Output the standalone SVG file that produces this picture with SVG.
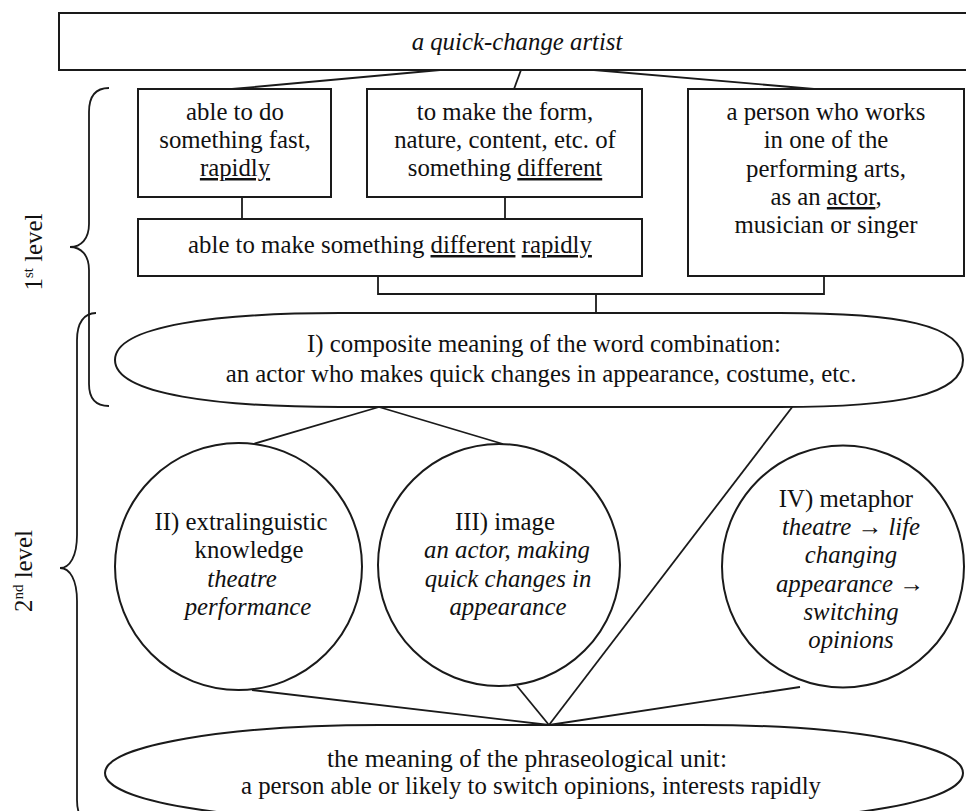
<svg xmlns="http://www.w3.org/2000/svg" width="966" height="811" viewBox="0 0 966 811">
  <style>
    .t{font-family:"Liberation Serif","Times New Roman",serif;font-size:24.8px;fill:#111;text-anchor:middle}
    .i{font-style:italic}
    .u{text-decoration:underline}
    .sh{fill:#fff;stroke:#1a1a1a;stroke-width:2}
    .ln{fill:none;stroke:#1a1a1a;stroke-width:1.8}
  </style>
  <rect width="966" height="811" fill="#fff"/>

  <!-- level braces -->
  <g id="brace-level-1">
    <path class="ln" d="M109,88 C96,88 89,96 89,112 L89,224 C89,239 81,247 70,247 C81,247 89,255 89,270 L89,384 C89,399 96,406 109,406"/>
    <text class="t" transform="translate(42,252) rotate(-90)">1<tspan font-size="15" dy="-9">st</tspan><tspan dy="9"> level</tspan></text>
  </g>
  <g id="brace-level-2">
    <path class="ln" d="M96,313 C84,313 77,323 77,340 L77,535 C77,556 70,568 60,568 C70,568 77,580 77,601 L77,800 C77,816 84,826 96,826"/>
    <text class="t" transform="translate(32,571) rotate(-90)">2<tspan font-size="15" dy="-9">nd</tspan><tspan dy="9"> level</tspan></text>
  </g>

  <!-- connectors -->
  <g id="connectors" class="ln">
    <path d="M440,70 L232,89"/>
    <path d="M521,70 L514,89"/>
    <path d="M594,70 L814,89"/>
    <path d="M242,197 V219"/>
    <path d="M505,197 V219"/>
    <path d="M378,276 V294 H824 V276"/>
    <path d="M596,294 V313"/>
    <path d="M379,407 L253,444"/>
    <path d="M379,407 L503,444"/>
    <path d="M793,406 L549,725"/>
    <path d="M252,690 L549,725"/>
    <path d="M517,686 L549,725"/>
    <path d="M800,687 L549,725"/>
  </g>

  <!-- term -->
  <g id="term">
    <rect class="sh" x="59" y="13" width="912" height="57"/>
    <text class="t i" x="517" y="50">a quick-change artist</text>
  </g>

  <!-- first level: dictionary meanings -->
  <g id="fast">
    <rect class="sh" x="138" y="89" width="193" height="108"/>
    <text class="t" x="235" y="120">able to do</text>
    <text class="t" x="235" y="148">something fast,</text>
    <text class="t" x="235" y="176"><tspan class="u">rapidly</tspan></text>
  </g>
  <g id="change">
    <rect class="sh" x="367" y="89" width="275" height="108"/>
    <text class="t" x="505" y="120">to make the form,</text>
    <text class="t" x="505" y="148">nature, content, etc. of</text>
    <text class="t" x="505" y="176">something <tspan class="u">different</tspan></text>
  </g>
  <g id="combined">
    <rect class="sh" x="138" y="219" width="504" height="57"/>
    <text class="t" x="390" y="253">able to make something <tspan class="u">different</tspan> <tspan class="u">rapidly</tspan></text>
  </g>
  <g id="artist">
    <rect class="sh" x="688" y="89" width="276" height="187"/>
    <text class="t" x="826" y="120">a person who works</text>
    <text class="t" x="826" y="148">in one of the</text>
    <text class="t" x="826" y="177">performing arts,</text>
    <text class="t" x="826" y="205">as an <tspan class="u">actor</tspan>,</text>
    <text class="t" x="826" y="233">musician or singer</text>
  </g>

  <!-- I) composite meaning -->
  <g id="composite">
    <path class="sh" d="M115,360 C115,325 220,313 340,313 L780,313 C900,313 963,325 963,360 C963,395 900,407 780,407 L340,407 C220,407 115,395 115,360 Z"/>
    <text class="t" x="544" y="352">I) composite meaning of the word combination:</text>
    <text class="t" x="541" y="382">an actor who makes quick changes in appearance, costume, etc.</text>
  </g>

  <!-- second level components -->
  <g id="knowledge">
    <circle class="sh" cx="238.5" cy="566.5" r="123.5"/>
    <text class="t" x="241" y="530">II) extralinguistic</text>
    <text class="t" x="249" y="558">knowledge</text>
    <text class="t i" x="242" y="587">theatre</text>
    <text class="t i" x="248" y="615">performance</text>
  </g>
  <g id="image">
    <circle class="sh" cx="499" cy="565" r="121"/>
    <text class="t" x="505" y="530">III) image</text>
    <text class="t i" x="507" y="558">an actor, making</text>
    <text class="t i" x="508" y="587">quick changes in</text>
    <text class="t i" x="508" y="615">appearance</text>
  </g>
  <g id="metaphor">
    <circle class="sh" cx="843" cy="566.5" r="121"/>
    <text class="t" x="846" y="507">IV) metaphor</text>
    <text class="t i" x="851" y="535">theatre → life</text>
    <text class="t i" x="851" y="563">changing</text>
    <text class="t i" x="850" y="592">appearance →</text>
    <text class="t i" x="851" y="620">switching</text>
    <text class="t i" x="851" y="648">opinions</text>
  </g>

  <!-- resulting meaning -->
  <g id="phraseological-meaning">
    <path class="sh" d="M105,773 C105,745 230,725 380,725 L700,725 C850,725 963,745 963,773 C963,801 850,821 700,821 L380,821 C230,821 105,801 105,773 Z"/>
    <text class="t" x="527" y="767" font-size="23.5" textLength="400" lengthAdjust="spacingAndGlyphs">the meaning of the phraseological unit:</text>
    <text class="t" x="531" y="794" font-size="23.5" textLength="580" lengthAdjust="spacingAndGlyphs">a person able or likely to switch opinions, interests rapidly</text>
  </g>
</svg>
